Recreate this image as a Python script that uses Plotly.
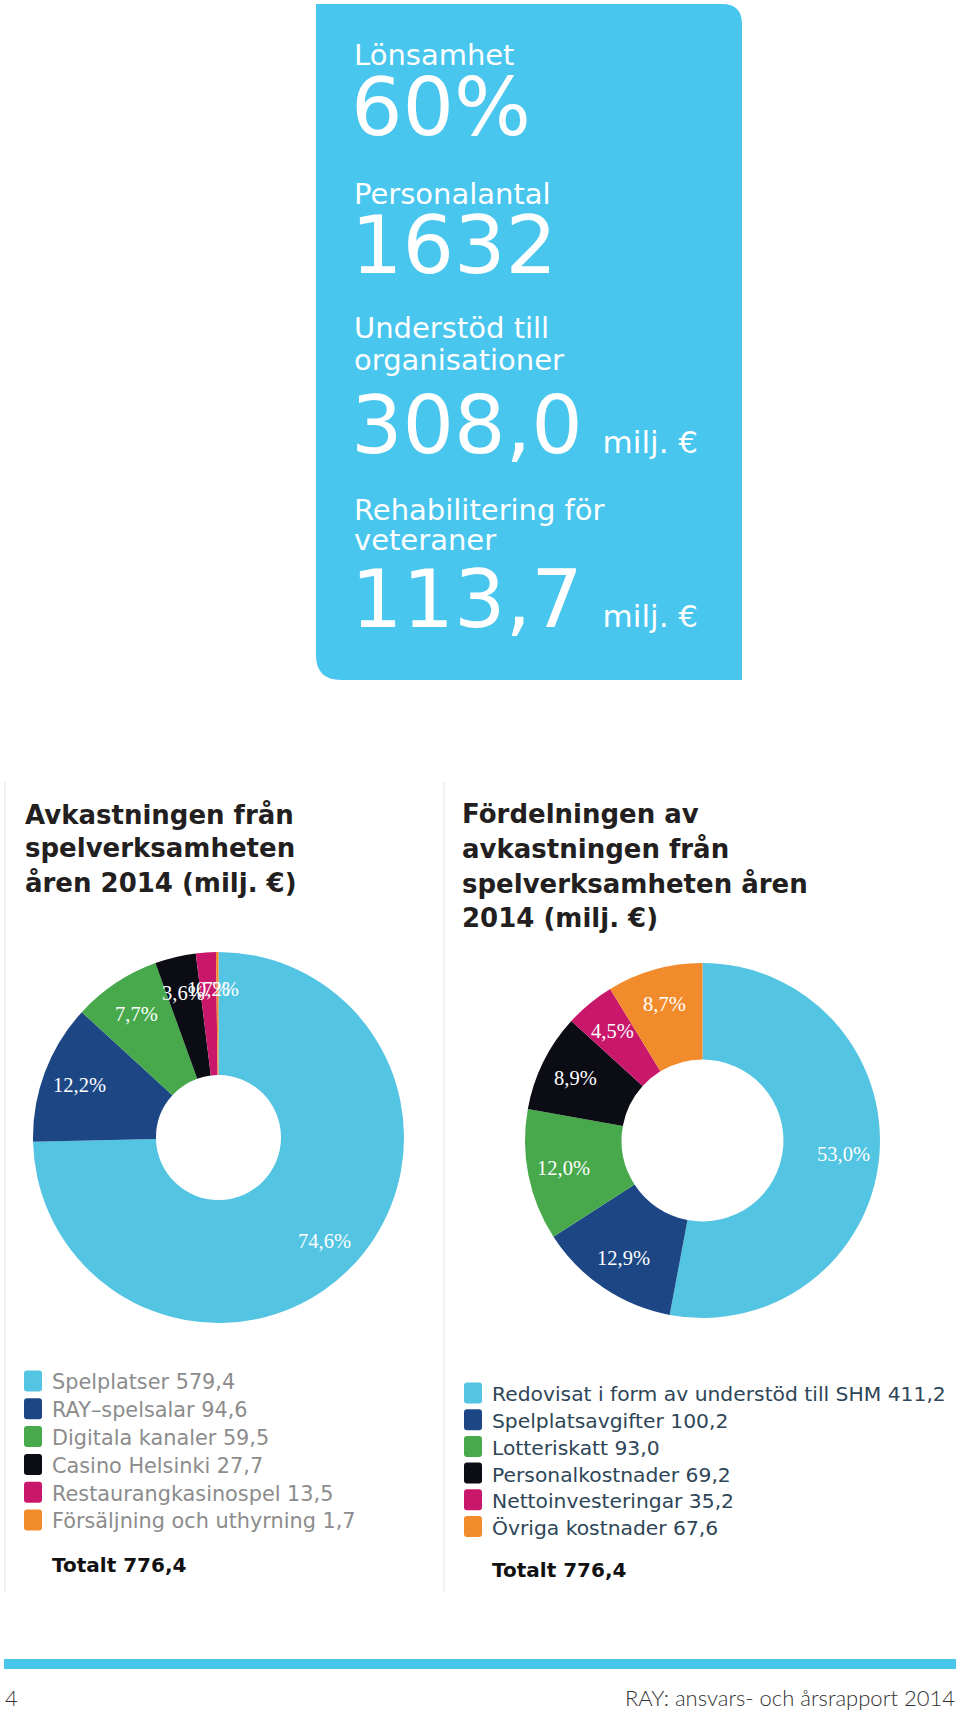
import math
import plotly.graph_objects as go

W, H = 960, 1710

# ---------------- data ----------------
kpi_labels = [["Lönsamhet"], ["Personalantal"], ["Understöd till", "organisationer"],
              ["Rehabilitering för", "veteraner"]]
kpi_values = ["60%", "1632", "308,0", "113,7"]
kpi_units = ["", "", "milj. €", "milj. €"]

rev_title = ["Avkastningen från", "spelverksamheten", "åren 2014 (milj. €)"]
rev_categories = ["Spelplatser", "RAY–spelsalar", "Digitala kanaler", "Casino Helsinki",
                  "Restaurangkasinospel", "Försäljning och uthyrning"]
rev_values = [579.4, 94.6, 59.5, 27.7, 13.5, 1.7]

dist_title = ["Fördelningen av", "avkastningen från", "spelverksamheten åren", "2014 (milj. €)"]
dist_categories = ["Redovisat i form av understöd till SHM", "Spelplatsavgifter", "Lotteriskatt",
                   "Personalkostnader", "Nettoinvesteringar", "Övriga kostnader"]
dist_values = [411.2, 100.2, 93.0, 69.2, 35.2, 67.6]

slice_colors = ["#53C4E2", "#1C4784", "#47A94B", "#0C0C15", "#C9186C", "#F28B2C"]

footer_page = "4"
footer_text = "RAY: ansvars- och årsrapport 2014"

# ---------------- helpers ----------------
def X(px):
    return px / W


def Y(py):
    return 1 - py / H


def fmt(v, nd=1):
    return f"{v:.{nd}f}".replace(".", ",")


annotations = []
shapes = []


def text(px, baseline, s, size, color, family="DejaVu Sans", weight="normal",
         xanchor="left", asc=0.346):
    annotations.append(dict(
        x=X(px), y=Y(baseline - asc * size), xref="paper", yref="paper",
        text=s, showarrow=False, xanchor=xanchor, yanchor="middle",
        font=dict(size=size, color=color, family=family, weight=weight),
        borderpad=0,
    ))


# ---------------- KPI box ----------------
bx0, by0, bx1, by1 = 316, 4, 742, 680
r1, r2 = 20, 25
box_path = (f"M{X(bx0)},{Y(by0)} L{X(bx1 - r1)},{Y(by0)} "
            f"Q{X(bx1)},{Y(by0)} {X(bx1)},{Y(by0 + r1)} "
            f"L{X(bx1)},{Y(by1)} L{X(bx0 + r2)},{Y(by1)} "
            f"Q{X(bx0)},{Y(by1)} {X(bx0)},{Y(by1 - r2)} Z")
shapes.append(dict(type="path", xref="paper", yref="paper", path=box_path,
                   fillcolor="#48C6EE", line=dict(width=0), layer="below"))

label_baselines = [[65], [204], [338, 370], [520, 550]]
value_baselines = [135, 273, 453, 627]
for labs, lbs, val, unit, vb in zip(kpi_labels, label_baselines, kpi_values, kpi_units,
                                    value_baselines):
    for lab, lb in zip(labs, lbs):
        text(353, lb, lab, 29, "white")
    s = val
    if unit:
        s += f"<span style='font-size:31px'>  {unit}</span>"
    text(350, vb, s, 81, "white")

# ---------------- panel borders ----------------
for lx in (5, 444):
    shapes.append(dict(type="line", xref="paper", yref="paper",
                       x0=X(lx), x1=X(lx), y0=Y(782), y1=Y(1592),
                       line=dict(color="#ECECEC", width=1.5)))

# ---------------- titles ----------------
for i, t in enumerate(rev_title):
    text(24, 823 + i * 34, t, 26, "#231F20", weight="bold")
for i, t in enumerate(dist_title):
    text(461, 823 + i * 34.5, t, 26, "#231F20", weight="bold")

# ---------------- donuts ----------------
def donut(values, cx, cy, R, hole):
    fig_traces.append(go.Pie(
        values=values, labels=[str(i) for i in range(len(values))],
        sort=False, direction="clockwise", rotation=0, hole=hole,
        marker=dict(colors=slice_colors, line=dict(width=0)),
        textinfo="none", hoverinfo="skip", showlegend=False,
        domain=dict(x=[X(cx - R), X(cx + R)], y=[Y(cy + R), Y(cy - R)]),
    ))
    total = sum(values)
    cum = 0.0
    for v in values:
        mid = cum + v / 2
        cum += v
        ang = math.radians(90 - 360 * mid / total)
        rr = 0.8 * R
        px = cx + rr * math.cos(ang)
        py = cy - rr * math.sin(ang)
        annotations.append(dict(
            x=X(px), y=Y(py), xref="paper", yref="paper", showarrow=False,
            text=fmt(100 * v / total) + "%", xanchor="center", yanchor="middle",
            font=dict(family="Liberation Serif", size=20.5, color="white"), borderpad=0,
        ))


fig_traces = []
donut(rev_values, 218.5, 1137.5, 185.5, 0.337)
donut(dist_values, 702.5, 1140.5, 177.5, 0.456)

# ---------------- legends ----------------
def legend(cats, vals, x_sq, row0, pitch, size, color, total_baseline):
    for i, (c, v) in enumerate(zip(cats, vals)):
        cyr = row0 + i * pitch
        x0, x1 = x_sq, x_sq + 18
        y0, y1 = cyr - 10.5, cyr + 10.5
        rr = 3
        p = (f"M{X(x0 + rr)},{Y(y0)} L{X(x1 - rr)},{Y(y0)} Q{X(x1)},{Y(y0)} {X(x1)},{Y(y0 + rr)} "
             f"L{X(x1)},{Y(y1 - rr)} Q{X(x1)},{Y(y1)} {X(x1 - rr)},{Y(y1)} "
             f"L{X(x0 + rr)},{Y(y1)} Q{X(x0)},{Y(y1)} {X(x0)},{Y(y1 - rr)} "
             f"L{X(x0)},{Y(y0 + rr)} Q{X(x0)},{Y(y0)} {X(x0 + rr)},{Y(y0)} Z")
        shapes.append(dict(type="path", xref="paper", yref="paper", path=p,
                           fillcolor=slice_colors[i], line=dict(width=0)))
        text(x_sq + 27, cyr + 8.5, f"{c} {fmt(v)}", size, color)
    text(x_sq + 27, total_baseline, f"Totalt {fmt(sum(vals))}", 20, "#111111", weight="bold")


legend(rev_categories, rev_values, 24, 1381, 27.8, 20.8, "#8C8C8C", 1572)
legend(dist_categories, dist_values, 464, 1393, 26.7, 20.3, "#2E4657", 1577)

# ---------------- footer ----------------
shapes.append(dict(type="rect", xref="paper", yref="paper", x0=X(4), x1=X(956),
                   y0=Y(1669), y1=Y(1659), fillcolor="#4AC6EC", line=dict(width=0)))
text(4, 1705, footer_page, 22, "#333333", family="Lato", weight=300)
text(956, 1705, footer_text, 22, "#333333", family="Lato", weight=300, xanchor="right")

fig = go.Figure(data=fig_traces)
fig.update_layout(
    width=W, height=H, margin=dict(l=0, r=0, t=0, b=0),
    paper_bgcolor="white", plot_bgcolor="white",
    shapes=shapes, annotations=annotations,
)
fig.write_html("out.html", config={"displayModeBar": False},
               post_script="document.body.style.margin='0';document.body.style.overflow='hidden';")
